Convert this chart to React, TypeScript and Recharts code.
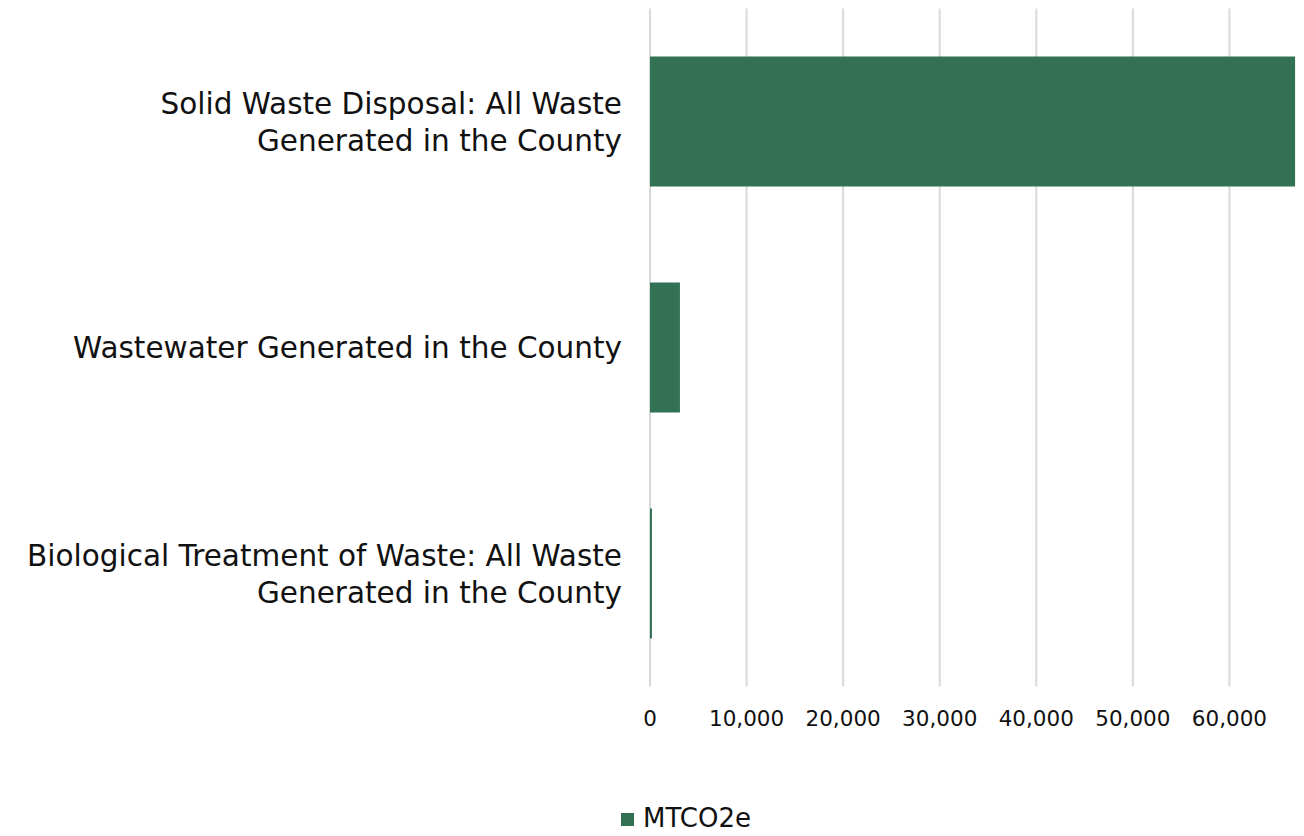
import { BarChart, Bar, XAxis, YAxis, CartesianGrid, Legend } from 'recharts';

const categories = [
  'Solid Waste Disposal: All Waste Generated in the County',
  'Wastewater Generated in the County',
  'Biological Treatment of Waste: All Waste Generated in the County',
];
const mtco2e = [66800, 3100, 200];
const xTicks = [0, 10000, 20000, 30000, 40000, 50000, 60000];

const data = categories.map((name, i) => ({ name, MTCO2e: mtco2e[i] }));

const FONT = '"DejaVu Sans", Verdana, sans-serif';
const GREEN = '#327154';

// long category names wrap before "Generated", like the original
function splitLabel(name: string): string[] {
  if (!name.includes(':')) return [name];
  const i = name.indexOf(' Generated');
  return [name.slice(0, i), name.slice(i + 1)];
}

function CategoryTick(props: any) {
  const { x, y, payload } = props;
  const lines = splitLabel(payload.value);
  const lh = 37;
  return (
    <text x={x} y={y} textAnchor="end" fontSize={29.5} fontFamily={FONT} fill="#111">
      {lines.map((ln, i) => (
        <tspan key={i} x={x} y={y + (i - (lines.length - 1) / 2) * lh} dy="0.36em">
          {ln}
        </tspan>
      ))}
    </text>
  );
}

export default function App() {
  return (
    <div
      style={{
        position: 'absolute',
        left: 0,
        top: 0,
        width: 1304,
        height: 836,
        overflow: 'hidden',
        background: '#fff',
        fontFamily: FONT,
      }}
    >
      <BarChart
        width={1340}
        height={836}
        data={data}
        layout="vertical"
        margin={{ top: 8.5, right: 14, left: 0, bottom: 89.5 }}
        barSize={130}
      >
        <CartesianGrid horizontal={false} stroke="#d9d9d9" strokeWidth={2} />
        <XAxis
          type="number"
          domain={[0, 70000]}
          ticks={xTicks}
          tickFormatter={(v: number) => v.toLocaleString('en-US')}
          axisLine={false}
          tickLine={false}
          tickSize={0}
          tickMargin={24}
          height={60}
          tick={{ fontSize: 21.5, fill: '#111', fontFamily: FONT }}
          allowDataOverflow
        />
        <YAxis
          type="category"
          dataKey="name"
          width={650}
          axisLine={false}
          tickLine={false}
          tickSize={0}
          tickMargin={28}
          tick={<CategoryTick />}
        />
        <Legend
          verticalAlign="middle"
          align="center"
          iconType="square"
          iconSize={13}
          wrapperStyle={{ top: 803, left: 0, width: 1382, fontSize: 26, lineHeight: '30px', fontFamily: FONT }}
          formatter={(v: string) => <span style={{ color: '#111', marginLeft: 5 }}>{v}</span>}
        />
        <Bar dataKey="MTCO2e" fill={GREEN} isAnimationActive={false} />
      </BarChart>
    </div>
  );
}
